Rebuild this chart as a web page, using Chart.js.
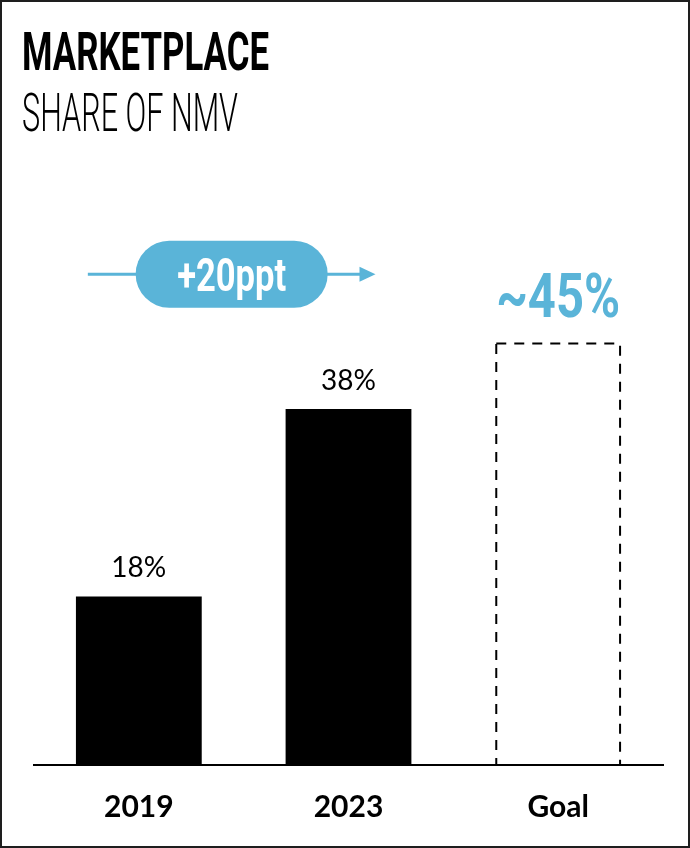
<!DOCTYPE html>
<html>
<head>
<meta charset="utf-8">
<script src="https://cdn.jsdelivr.net/npm/chart.js@4.4.1/dist/chart.umd.min.js"></script>
<style>
  html, body { margin: 0; padding: 0; background: #fff; }
  #card { position: relative; width: 690px; height: 848px; overflow: hidden; }
  #frame { position: absolute; left: 0; top: 0; right: 0; bottom: 0; border: 2px solid #1e1e1e; pointer-events: none; }
  canvas { position: absolute; left: 0; top: 0; }
  .title { position: absolute; left: 22px; white-space: nowrap; font-family: Roboto, sans-serif; font-size: 53px; line-height: 53px; color: #000; transform-origin: 0 0; }
  #title { top: 26px; font-weight: 700; }
  #subtitle { top: 87px; font-weight: 300; }
</style>
</head>
<body>
<div id="card">
  <canvas id="shareChart" width="690" height="848"></canvas>
  <div class="title" id="title" data-w="247">MARKETPLACE</div>
  <div class="title" id="subtitle" data-w="216">SHARE OF NMV</div>
  <div id="frame"></div>
</div>
<script>
// Data
const categories = ['2019', '2023', 'Goal'];
const shareValues = [18, 38, 45];
const valueLabels = ['18%', '38%', '~45%'];
const changeLabel = '+20ppt';

const BLUE = '#5ab4d8';

// squeeze the titles to look like a condensed face
function squeezeTitles() {
    document.querySelectorAll('.title').forEach(el => {
        el.style.transform = '';
        const w = el.getBoundingClientRect().width;
        el.style.transform = 'scaleX(' + (el.dataset.w / w) + ')';
    });
}

// draw text centered at cx, squeezed to a given width
function fitText(ctx, text, cx, baseline, width) {
    const w = ctx.measureText(text).width;
    ctx.save();
    ctx.translate(cx, baseline);
    ctx.scale(width / w, 1);
    ctx.textAlign = 'center';
    ctx.textBaseline = 'alphabetic';
    ctx.fillText(text, 0, 0);
    ctx.restore();
}

const barDecor = {
    id: 'barDecor',
    afterDatasetsDraw(chart) {
        const ctx = chart.ctx;
        const meta = chart.getDatasetMeta(0);
        meta.data.forEach((bar, i) => {
            const {x, y, base, width} = bar.getProps(['x', 'y', 'base', 'width'], true);
            ctx.save();
            if (i === 2) {
                // goal bar: dashed outline
                ctx.strokeStyle = '#000';
                ctx.lineWidth = 2;
                ctx.setLineDash([10, 8]);
                ctx.strokeRect(x - width / 2 + 1, y, width - 2, base - y);
                ctx.setLineDash([]);
                ctx.fillStyle = BLUE;
                ctx.font = 'bold 62px Roboto';
                fitText(ctx, valueLabels[i], x, y - 27, 124);
            } else {
                ctx.fillStyle = '#000';
                ctx.font = '28px Lato';
                ctx.textAlign = 'center';
                ctx.textBaseline = 'alphabetic';
                ctx.fillText(valueLabels[i], x, y - 19);
            }
            ctx.restore();
        });

        // change arrow with pill between 2019 and 2023
        const xs = chart.scales.x;
        const ys = chart.scales.y;
        const ay = ys.getPixelForValue(52.4);
        const x0 = xs.getPixelForValue(0) - 51;
        const x1 = xs.getPixelForValue(1) + 27;
        const mid = (x0 + x1) / 2;
        ctx.save();
        ctx.strokeStyle = BLUE;
        ctx.fillStyle = BLUE;
        ctx.lineWidth = 3;
        ctx.beginPath();
        ctx.moveTo(x0, ay);
        ctx.lineTo(x1 - 12, ay);
        ctx.stroke();
        ctx.beginPath();
        ctx.moveTo(x1, ay);
        ctx.lineTo(x1 - 16, ay - 7.5);
        ctx.lineTo(x1 - 16, ay + 7.5);
        ctx.closePath();
        ctx.fill();
        // pill
        const pw = 192, ph = 67;
        ctx.beginPath();
        ctx.roundRect(mid - pw / 2, ay - ph / 2, pw, ph, ph / 2);
        ctx.fill();
        ctx.fillStyle = '#fff';
        ctx.font = 'bold 46px Roboto';
        fitText(ctx, changeLabel, mid, ay + 17, 109);
        ctx.restore();
    }
};

function drawChart() {
    squeezeTitles();
    new Chart(document.getElementById('shareChart'), {
        type: 'bar',
        data: {
            labels: categories,
            datasets: [{
                data: shareValues,
                backgroundColor: ['#000', '#000', 'rgba(0,0,0,0)'],
                borderWidth: 0,
                barPercentage: 0.6,
                categoryPercentage: 1,
            }]
        },
        options: {
            responsive: false,
            animation: false,
            layout: {
                padding: { left: 34, right: 27, top: 203, bottom: 0 }
            },
            plugins: {
                legend: { display: false },
                tooltip: { enabled: false },
            },
            scales: {
                y: {
                    display: false,
                    min: 0,
                    max: 60,
                },
                x: {
                    grid: { display: false },
                    border: { display: true, color: '#000', width: 2 },
                    ticks: {
                        color: '#000',
                        padding: 16,
                        font: { family: 'Lato', weight: 'bold', size: 30 },
                    },
                    afterFit(scale) {
                        scale.height = 83;
                    }
                }
            }
        },
        plugins: [barDecor]
    });
}

// make sure the local fonts are ready before drawing on the canvas
Promise.all([
    document.fonts.load('28px Lato'),
    document.fonts.load('bold 30px Lato'),
    document.fonts.load('bold 62px Roboto'),
    document.fonts.load('300 53px Roboto'),
]).catch(() => {}).then(drawChart);
</script>
</body>
</html>
